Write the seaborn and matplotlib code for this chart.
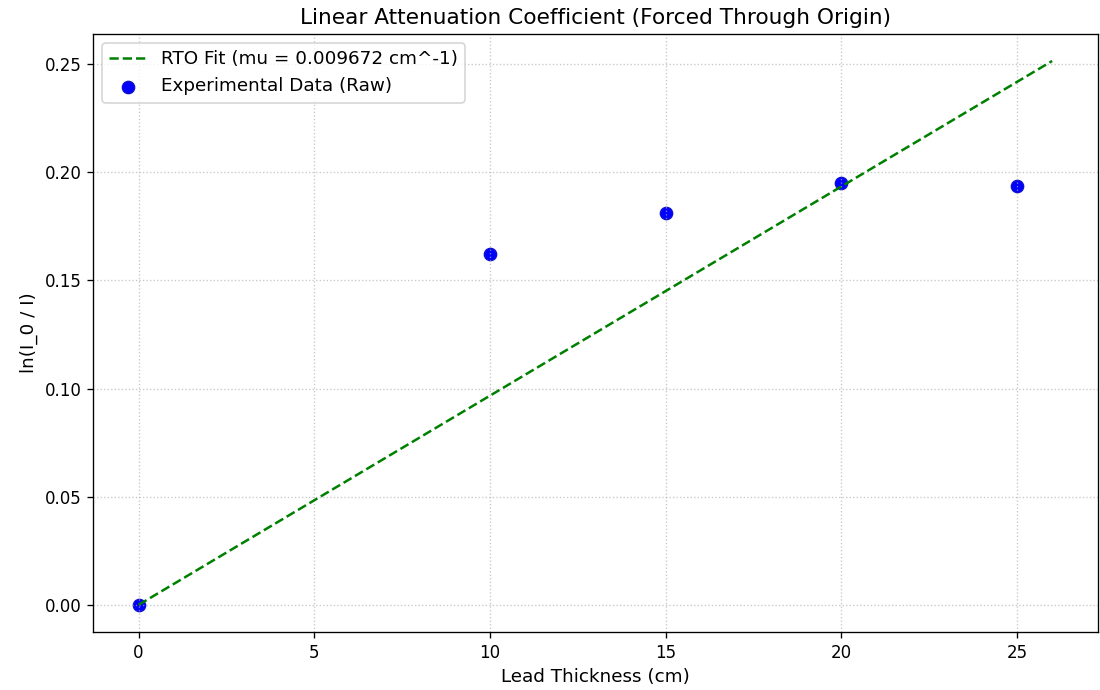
import matplotlib
matplotlib.use("Agg")
import matplotlib.pyplot as plt
import seaborn as sns
import numpy as np
import pandas as pd

# ── Data ──────────────────────────────────────────────────────────────
thickness_cm = [0, 10, 15, 20, 25]
ln_ratio = [0.0, 0.162, 0.181, 0.195, 0.1935]
mu = 0.009672
fit_x = np.array([0.0, 26.0])
fit_y = mu * fit_x

data_df = pd.DataFrame({"x": thickness_cm, "y": ln_ratio})
fit_df = pd.DataFrame({"x": fit_x, "y": fit_y})

# ── Plot ──────────────────────────────────────────────────────────────
fig, ax = plt.subplots(figsize=(1100 / 120, 690 / 120), dpi=120)

sns.lineplot(data=fit_df, x="x", y="y", ax=ax, color="green",
             linestyle="--", linewidth=1.5,
             label=f"RTO Fit (mu = {mu:.6f} cm^-1)")
sns.scatterplot(data=data_df, x="x", y="y", ax=ax, color="blue",
                s=55, edgecolor="#1010d0", linewidth=0.8, zorder=1,
                label="Experimental Data (Raw)")

ax.set_title("Linear Attenuation Coefficient (Forced Through Origin)", fontsize=13)
ax.set_xlabel("Lead Thickness (cm)", fontsize=11)
ax.set_ylabel("ln(I_0 / I)", fontsize=11)
ax.grid(True, linestyle=":", color="#b0b0b0", alpha=0.7)
ax.legend(loc="upper left", fontsize=11)

plt.subplots_adjust(left=0.0845, right=0.998, top=0.951, bottom=0.084)
plt.savefig("out.png", dpi=120)
plt.close()
